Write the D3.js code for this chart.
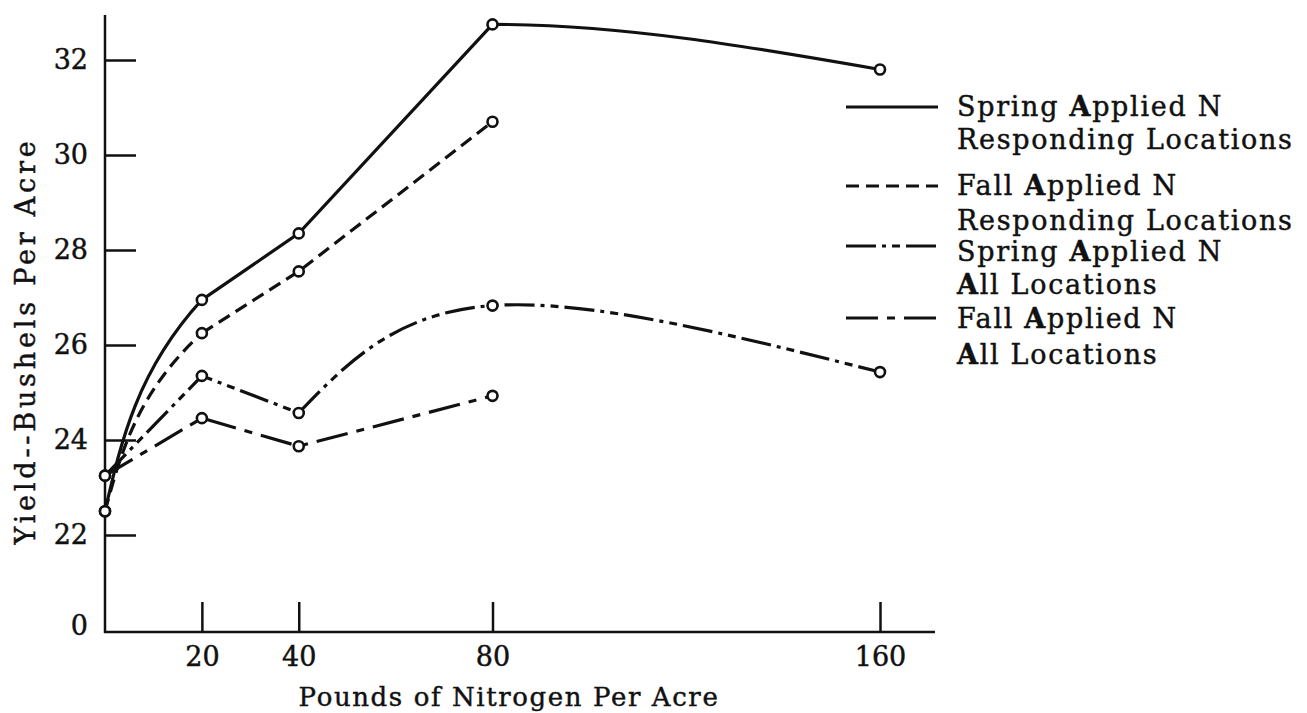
<!DOCTYPE html>
<html>
<head>
<meta charset="utf-8">
<script src="https://cdn.jsdelivr.net/npm/d3@7"></script>
<style>
  body { margin: 0; background: #fff; }
  text { font-family: "DejaVu Serif", serif; fill: #111; stroke: #111; stroke-width: 0.45px; }
</style>
</head>
<body>
<div id="vis"></div>
<script>
// pounds of nitrogen per acre
const nitrogen = [0, 20, 40, 80, 160];

// yield, bushels per acre
const springResponding = [22.5, 26.95, 28.35, 32.75, 31.8];
const fallResponding = [22.5, 26.25, 27.55, 30.7];
const springAll = [23.25, 25.35, 24.57, 26.83, 25.43];
const fallAll = [23.25, 24.46, 23.87, 24.93];

// axis ticks (the lowest y tick is a broken-axis "0")
const yTicks = [20, 22, 24, 26, 28, 30, 32];
const yTickLabels = ['0', '22', '24', '26', '28', '30', '32'];
const xTicks = [20, 40, 80, 160];

const legendLabels = [
  ['Spring Applied N', 'Responding Locations'],
  ['Fall Applied N', 'Responding Locations'],
  ['Spring Applied N', 'All Locations'],
  ['Fall Applied N', 'All Locations']
];

var width = 1307, height = 713;

var x = d3.scaleLinear().domain([0, 160]).range([105, 880]);
var y = d3.scaleLinear().domain([20, 32]).range([630, 60]);

var svg = d3.select('#vis').append('svg')
  .attr('width', width)
  .attr('height', height);

var ink = '#111';

// how each curve is drawn: pieces of the series, the d3 curve used on them,
// and the segment span the piece is clipped to (so corners stay sharp)
var series = [
  { values: springResponding, dash: null,
    pieces: [
      { pts: [0, 1, 2], curve: d3.curveMonotoneY, span: [0, 1] },
      { pts: [1, 2, 3], curve: d3.curveLinear },
      { pts: [2, 3, 4], curve: d3.curveMonotoneX, span: [3, 4] }
    ] },
  { values: fallResponding, dash: '13,7',
    pieces: [
      { pts: [0, 1, 2], curve: d3.curveMonotoneY, span: [0, 1] },
      { pts: [1, 2, 3], curve: d3.curveLinear }
    ] },
  { values: springAll, dash: '30,6,4,6,8,6',
    pieces: [
      { pts: [0, 1, 2], curve: d3.curveLinear },
      { pts: [2, 3, 4], curve: d3.curveNatural }
    ] },
  { values: fallAll, dash: '32,9,8,9',
    pieces: [
      { pts: [0, 1, 2, 3], curve: d3.curveLinear }
    ] }
];

// axes: ticks point inward
var yAxis = d3.axisLeft(y)
  .tickValues(yTicks)
  .tickSizeInner(-31)
  .tickSizeOuter(0)
  .tickPadding(17)
  .tickFormat(function (d, i) { return yTickLabels[i]; });

var xAxis = d3.axisBottom(x)
  .tickValues(xTicks)
  .tickSizeInner(-30)
  .tickSizeOuter(0)
  .tickPadding(15);

var gy = svg.append('g')
  .attr('transform', 'translate(' + x(0) + ',0)')
  .call(yAxis);

var gx = svg.append('g')
  .attr('transform', 'translate(0,' + (y(20) + 2) + ')')
  .call(xAxis);

[gx, gy].forEach(function (g) {
  g.select('.domain').remove();
  g.selectAll('.tick line').attr('stroke', ink).attr('stroke-width', 2.5);
  g.selectAll('.tick text')
    .style('font-family', '"DejaVu Serif", serif')
    .style('font-size', '27px')
    .attr('fill', ink);
});
// the broken-axis "0" has a label but no tick mark
var zeroTick = gy.selectAll('.tick').filter(function (d) { return d === 20; });
zeroTick.select('line').remove();
zeroTick.select('text').attr('dy', '0.15em');

// axis lines, drawn longer than the data range as in the original
svg.append('line')
  .attr('x1', x(0)).attr('x2', x(0))
  .attr('y1', 15).attr('y2', y(20) + 3)
  .attr('stroke', ink).attr('stroke-width', 2.5);
svg.append('line')
  .attr('x1', x(0) - 1).attr('x2', 935)
  .attr('y1', y(20) + 2).attr('y2', y(20) + 2)
  .attr('stroke', ink).attr('stroke-width', 2.5);

// axis titles
svg.append('text')
  .attr('transform', 'translate(35,341) rotate(-90)')
  .attr('text-anchor', 'middle')
  .style('font-size', '27px')
  .style('letter-spacing', '3.8px')
  .text('Yield--Bushels Per Acre');

svg.append('text')
  .attr('x', 509)
  .attr('y', 706)
  .attr('text-anchor', 'middle')
  .style('font-size', '26px')
  .style('letter-spacing', '1.6px')
  .text('Pounds of Nitrogen Per Acre');

// curves
var defs = svg.append('defs');
var lines = svg.append('g');

series.forEach(function (s, si) {
  s.pieces.forEach(function (p, pi) {
    var pts = p.pts.map(function (i) { return [nitrogen[i], s.values[i]]; });
    var line = d3.line()
      .x(function (d) { return x(d[0]); })
      .y(function (d) { return y(d[1]); })
      .curve(p.curve);

    var path = lines.append('path')
      .attr('d', line(pts))
      .attr('fill', 'none')
      .attr('stroke', ink)
      .attr('stroke-width', 3.2)
      .attr('stroke-dasharray', s.dash);

    if (p.span) {
      var id = 'clip-' + si + '-' + pi;
      var x0 = x(nitrogen[p.span[0]]), x1 = x(nitrogen[p.span[1]]);
      defs.append('clipPath').attr('id', id)
        .append('rect')
        .attr('x', x0).attr('y', 0)
        .attr('width', x1 - x0).attr('height', height);
      path.attr('clip-path', 'url(#' + id + ')');
    }
  });
});

// open circle markers
series.forEach(function (s) {
  lines.selectAll(null)
    .data(s.values)
    .enter().append('circle')
    .attr('cx', function (d, i) { return x(nitrogen[i]); })
    .attr('cy', function (d) { return y(d); })
    .attr('r', 5)
    .attr('fill', '#fff')
    .attr('stroke', ink)
    .attr('stroke-width', 2.6);
});

// legend
var legendLineY = [107, 186, 246, 318];
var legendTextY = [[106, 139], [185, 220], [251, 284], [318, 354]];

var legend = svg.append('g');

series.forEach(function (s, i) {
  legend.append('line')
    .attr('x1', 846).attr('x2', 938)
    .attr('y1', legendLineY[i]).attr('y2', legendLineY[i])
    .attr('stroke', ink)
    .attr('stroke-width', 3)
    .attr('stroke-dasharray', s.dash);

  legendLabels[i].forEach(function (label, j) {
    var t = legend.append('text')
      .attr('x', 957)
      .attr('y', legendTextY[i][j] + 10)
      .style('font-size', '27px')
      .style('letter-spacing', '1.7px');
    // the capital A is struck heavier in the original
    label.split(/(A)/).forEach(function (part) {
      if (!part) return;
      t.append('tspan')
        .style('font-weight', part === 'A' ? 'bold' : 'normal')
        .text(part);
    });
  });
});
</script>
</body>
</html>
